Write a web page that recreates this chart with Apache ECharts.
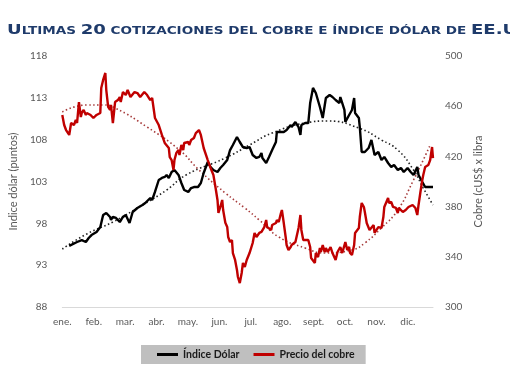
<!DOCTYPE html>
<html>
<head>
<meta charset="utf-8">
<script src="https://cdn.jsdelivr.net/npm/echarts@6/dist/echarts.min.js"></script>
<style>html,body{margin:0;padding:0;background:#fff}#c{width:510px;height:382px}</style>
</head>
<body>
<div id="c"></div>
<script>
// Month tick labels (x value = months since start of January)
var months = ['ene.', 'feb.', 'mar.', 'abr.', 'may.', 'jun.', 'jul.', 'ago.', 'sept.', 'oct.', 'nov.', 'dic.'];
var leftTicks = [88, 118, 5];     // Índice dólar axis: min, max, step
var rightTicks = [300, 500, 40];  // Cobre axis: min, max, step

// Índice Dólar (puntos): [month, value]
var dolar = [
[0.22,95.3],[0.28,95.41],[0.47,95.77],[0.62,96.0],[0.75,95.77],[0.84,96.25],[0.93,96.6],[0.99,96.37],
[1.09,96.96],[1.21,97.56],[1.30,99.0],[1.40,99.24],[1.52,98.76],[1.55,98.4],[1.61,98.76],[1.71,98.64],
[1.83,98.16],[1.93,98.76],[2.02,99.0],[2.14,98.04],[2.24,99.36],[2.39,99.83],[2.55,100.19],[2.64,100.43],
[2.80,101.03],[2.86,100.79],[2.95,101.75],[3.07,103.18],[3.17,103.42],[3.26,103.54],[3.32,103.78],[3.39,103.42],
[3.48,104.14],[3.57,104.37],[3.70,103.78],[3.79,102.82],[3.88,101.98],[4.01,101.75],[4.10,102.22],[4.19,102.34],
[4.32,102.34],[4.41,102.82],[4.50,104.02],[4.63,105.33],[4.72,104.73],[4.81,104.37],[4.94,104.14],[5.03,104.61],
[5.12,104.97],[5.25,105.57],[5.34,106.76],[5.43,107.36],[5.56,108.32],[5.65,107.72],[5.75,107.12],[5.87,107.0],
[5.96,107.12],[6.06,106.17],[6.18,105.81],[6.27,105.93],[6.34,106.41],[6.37,105.81],[6.49,105.21],[6.58,105.93],
[6.68,106.76],[6.80,107.72],[6.83,108.92],[6.96,108.92],[7.05,108.92],[7.14,109.16],[7.27,109.75],[7.30,109.51],
[7.42,110.11],[7.52,109.51],[7.58,108.56],[7.61,109.75],[7.73,109.99],[7.83,109.99],[7.89,112.38],[7.98,114.18],
[8.07,113.58],[8.20,111.9],[8.29,110.59],[8.39,112.98],[8.51,113.34],[8.60,113.1],[8.70,112.74],[8.82,112.38],
[8.85,113.1],[8.98,111.55],[9.01,110.11],[9.13,110.95],[9.22,111.55],[9.29,112.98],[9.32,111.19],[9.44,110.59],
[9.47,109.51],[9.53,106.53],[9.63,106.53],[9.75,107.0],[9.84,107.96],[9.94,106.17],[10.06,106.53],[10.16,105.57],
[10.25,105.93],[10.37,105.21],[10.47,104.73],[10.56,104.97],[10.68,104.37],[10.78,104.61],[10.87,104.14],[10.99,104.61],
[11.09,104.14],[11.18,103.78],[11.30,104.73],[11.34,103.78],[11.46,102.94],[11.55,102.34],[11.65,102.34],[11.80,102.34]
];

// Precio del cobre (cUS$ x libra): [month, value]
var cobre = [
[0,453.0],[0.06,445.0],[0.12,441.0],[0.22,437.1],[0.28,446.6],[0.31,447.4],[0.37,445.0],[0.43,449.0],
[0.47,446.6],[0.53,463.3],[0.59,451.4],[0.62,454.6],[0.68,457.0],[0.75,453.0],[0.78,454.6],[0.90,453.0],
[0.99,450.6],[1.09,453.0],[1.21,454.6],[1.24,474.5],[1.30,480.9],[1.37,486.5],[1.40,472.9],[1.46,459.4],
[1.52,457.0],[1.55,461.0],[1.61,446.6],[1.68,463.3],[1.77,464.9],[1.83,467.3],[1.86,463.3],[1.93,471.3],
[2.02,468.9],[2.08,472.9],[2.17,467.3],[2.30,471.3],[2.39,470.5],[2.48,467.3],[2.61,471.3],[2.70,468.9],
[2.80,464.9],[2.86,466.5],[2.95,450.6],[3.07,445.0],[3.17,437.1],[3.26,430.7],[3.39,426.7],[3.42,419.5],
[3.48,417.1],[3.54,409.2],[3.57,417.1],[3.63,422.7],[3.70,425.1],[3.73,421.1],[3.79,429.1],[3.85,425.1],
[3.88,430.7],[4.01,431.5],[4.04,429.1],[4.10,433.1],[4.19,434.7],[4.25,438.6],[4.35,441.0],[4.41,437.1],
[4.50,426.7],[4.63,417.1],[4.72,410.8],[4.81,405.2],[4.88,394.8],[4.94,385.3],[4.97,374.9],[5.03,379.7],
[5.09,385.3],[5.12,377.3],[5.19,367.1],[5.25,363.7],[5.28,355.8],[5.34,351.8],[5.40,353.4],[5.43,343.0],
[5.50,337.5],[5.56,329.5],[5.59,323.9],[5.65,319.1],[5.71,327.1],[5.75,335.1],[5.81,331.9],[5.87,337.5],
[5.90,339.0],[5.96,343.0],[6.06,351.0],[6.12,359.0],[6.18,355.8],[6.27,359.0],[6.34,359.8],[6.43,363.7],
[6.49,369.3],[6.52,363.7],[6.58,363.7],[6.65,361.4],[6.68,365.3],[6.80,366.9],[6.83,369.3],[6.89,367.7],
[6.96,374.9],[6.99,377.3],[7.05,366.9],[7.11,355.8],[7.14,349.4],[7.20,345.4],[7.27,347.8],[7.30,349.4],
[7.42,351.8],[7.52,363.0],[7.58,373.3],[7.61,361.4],[7.67,353.4],[7.83,353.4],[7.89,347.8],[7.92,339.0],
[8.04,335.1],[8.07,343.0],[8.14,339.8],[8.20,347.0],[8.23,343.8],[8.29,349.4],[8.35,343.8],[8.39,347.0],
[8.45,343.8],[8.54,347.8],[8.60,343.0],[8.70,337.5],[8.76,343.8],[8.82,343.8],[8.85,347.8],[8.91,343.0],
[9.01,351.8],[9.07,345.4],[9.13,347.8],[9.16,343.0],[9.22,341.4],[9.29,349.4],[9.32,359.0],[9.44,362.9],
[9.47,371.7],[9.53,382.9],[9.60,379.7],[9.63,375.7],[9.69,366.9],[9.78,361.4],[9.91,365.3],[9.94,359.0],
[10.06,363.7],[10.16,363.0],[10.22,371.7],[10.25,379.7],[10.37,386.9],[10.40,382.9],[10.47,383.7],[10.53,379.7],
[10.62,378.9],[10.68,374.9],[10.71,378.9],[10.84,375.7],[10.93,377.3],[11.02,379.7],[11.15,381.3],[11.24,378.9],
[11.30,373.3],[11.34,381.3],[11.40,391.6],[11.46,401.2],[11.49,405.2],[11.55,411.6],[11.65,413.1],[11.71,417.1],
[11.77,427.5],[11.80,418.7]
];

// Dotted trend lines
var dolarTrend = [
[0,94.93],[0.78,96.73],[1.61,98.16],[2.55,100.19],[3.32,101.98],[3.94,103.78],[5.19,105.81],[5.96,107.36],
[6.68,108.8],[7.73,109.99],[8.45,110.23],[9.44,109.39],[10.16,107.96],[10.68,106.76],[11.18,104.37],[11.49,102.22],[11.80,100.19]
];
var cobreTrend = [
[0,455.4],[0.78,461.0],[1.30,461.0],[1.68,458.6],[2.70,443.4],[3.73,425.1],[4.35,409.2],[5.19,390.8],
[5.81,378.9],[6.27,369.3],[6.89,355.8],[7.73,347.0],[8.35,343.0],[9.22,345.4],[9.63,351.0],[10.16,363.0],
[10.68,377.3],[11.18,401.2],[11.49,417.1],[11.71,429.1]
];

var names = ['Índice Dólar', 'Precio del cobre'];
var titleText = '{b|U}{s|LTIMAS }{b|20}{s| COTIZACIONES DEL COBRE E ÍNDICE DÓLAR DE }{b|EE.UU.}';
var tickFont = 'Lato';
var chart = echarts.init(document.getElementById('c'), null, {renderer: 'canvas'});
chart.setOption({
  animation: false,
  backgroundColor: '#ffffff',
  graphic: [{
    type: 'text', x: 7, y: 23, scaleX: 1.29, scaleY: 1, silent: true,
    style: {
      text: titleText,
      verticalAlign: 'top',
      rich: {
        b: {fontFamily: 'DejaVu Sans', fontWeight: 'bold', fontSize: 14, fill: '#1f3b6b', lineHeight: 14, verticalAlign: 'bottom'},
        s: {fontFamily: 'DejaVu Sans', fontWeight: 'bold', fontSize: 10.5, fill: '#1f3b6b', lineHeight: 14, verticalAlign: 'bottom'}
      }
    }
  }],
  legend: {
    data: names,
    left: 141, top: 345,
    backgroundColor: '#bfbfbf',
    padding: [4, 11, 4, 16],
    itemGap: 14,
    itemWidth: 21, itemHeight: 3,
    icon: 'rect',
    textStyle: {fontFamily: tickFont, fontWeight: 'bold', fontSize: 10.5, color: '#1a1a1a'}
  },
  grid: {left: 53, right: 77, top: 56, bottom: 75},
  xAxis: {
    type: 'value', min: 0, max: 11.8, interval: 1,
    axisLine: {show: true, lineStyle: {color: '#d9d9d9', width: 1}},
    axisTick: {show: false},
    splitLine: {show: false},
    axisLabel: {
      margin: 10, fontFamily: tickFont, fontSize: 10, color: '#595959',
      formatter: function (v) { return Number.isInteger(v) && v < months.length ? months[v] : ''; }
    }
  },
  yAxis: [{
    type: 'value', min: leftTicks[0], max: leftTicks[1], interval: leftTicks[2],
    name: 'Indice dólar (puntos)', nameLocation: 'middle', nameGap: 34, nameRotate: 90,
    nameTextStyle: {fontFamily: tickFont, fontSize: 11, color: '#595959'},
    axisLine: {show: false}, axisTick: {show: false}, splitLine: {show: false},
    axisLabel: {margin: 15, fontFamily: tickFont, fontSize: 10, color: '#595959'}
  }, {
    type: 'value', min: rightTicks[0], max: rightTicks[1], interval: rightTicks[2],
    name: 'Cobre (cUS$ x libra', nameLocation: 'middle', nameGap: 35, nameRotate: 90,
    nameTextStyle: {fontFamily: tickFont, fontSize: 11, color: '#595959'},
    axisLine: {show: false}, axisTick: {show: false}, splitLine: {show: false},
    axisLabel: {margin: 12, fontFamily: tickFont, fontSize: 10, color: '#595959'}
  }],
  series: [{
    name: 'trend-dolar', type: 'line', yAxisIndex: 0, data: dolarTrend, smooth: true,
    showSymbol: false, symbol: 'none', silent: true,
    lineStyle: {color: '#222', width: 1.6, type: [1.5, 2.5]}
  }, {
    name: 'trend-cobre', type: 'line', yAxisIndex: 1, data: cobreTrend, smooth: true,
    showSymbol: false, symbol: 'none', silent: true,
    lineStyle: {color: '#a63a3a', width: 1.6, type: [1.5, 2.5]}
  }, {
    name: names[0], type: 'line', yAxisIndex: 0, data: dolar,
    showSymbol: false, symbol: 'none', color: '#000000',
    lineStyle: {color: '#000000', width: 2.4}
  }, {
    name: names[1], type: 'line', yAxisIndex: 1, data: cobre,
    showSymbol: false, symbol: 'none', color: '#c00000',
    lineStyle: {color: '#c00000', width: 2.4}
  }]
});
</script>
</body>
</html>
